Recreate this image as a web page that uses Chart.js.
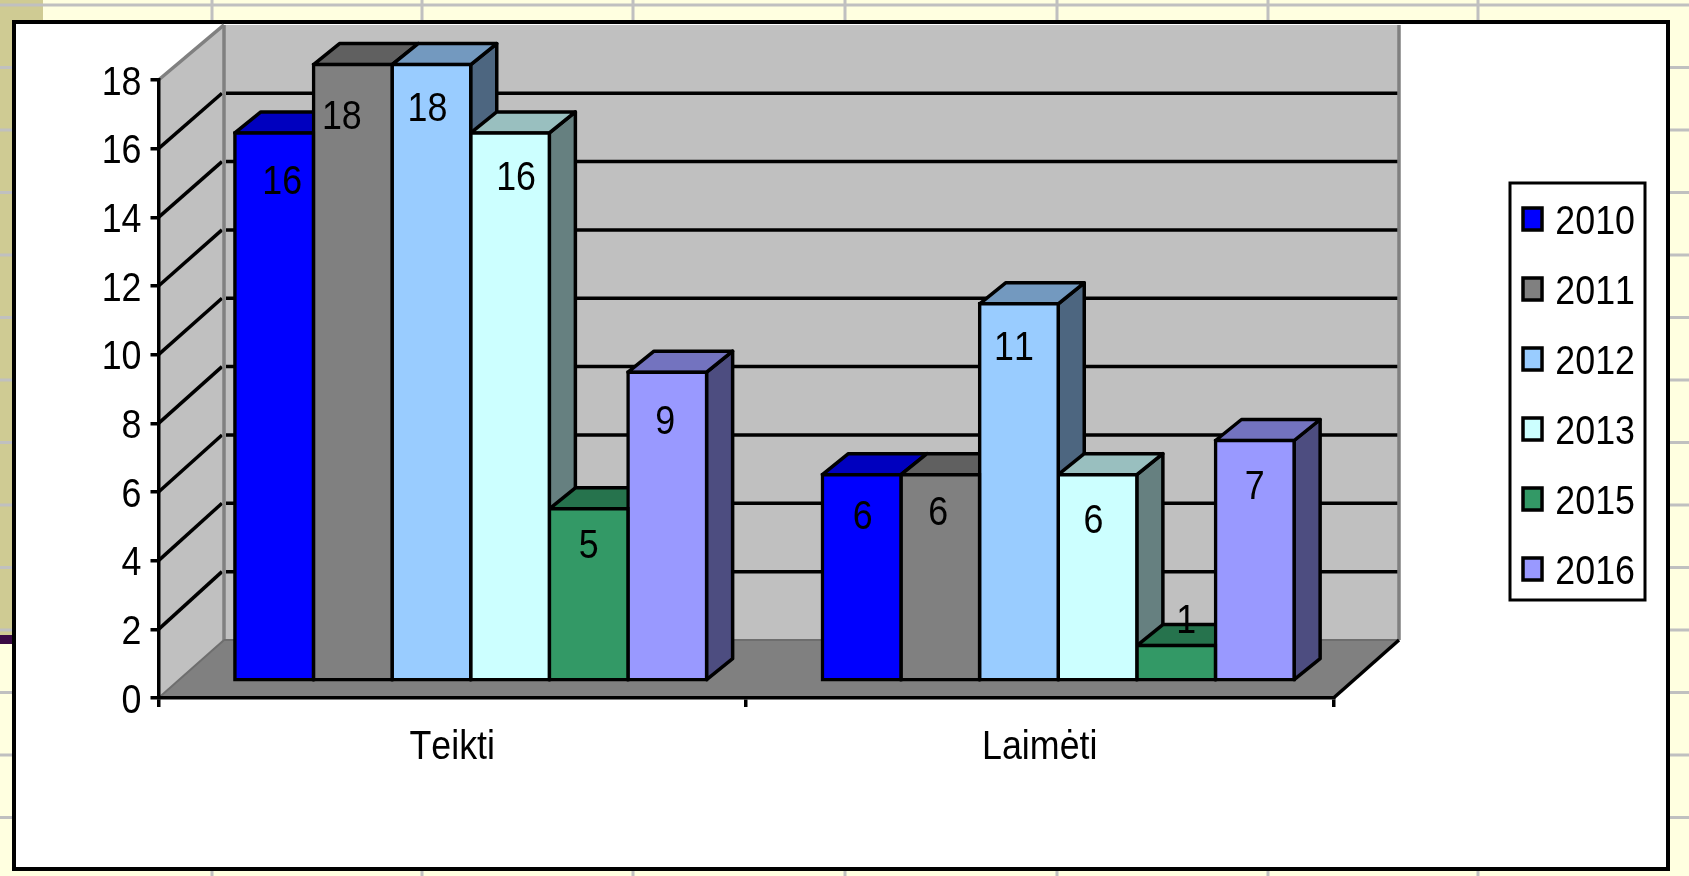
<!DOCTYPE html>
<html>
<head>
<meta charset="utf-8">
<style>
  html, body { margin: 0; padding: 0; background: #ffffe0; }
  canvas { display: block; }
</style>
<script src="https://cdn.jsdelivr.net/npm/chart.js@4"></script>
</head>
<body>
<canvas id="bar-chart" width="1689" height="876"></canvas>
<script>
const categories = ['Teikti', 'Laimėti'];
const seriesNames = ['2010', '2011', '2012', '2013', '2015', '2016'];
const values2010 = [16, 6];
const values2011 = [18, 6];
const values2012 = [18, 11];
const values2013 = [16, 6];
const values2015 = [5, 1];
const values2016 = [9, 7];
const yTicks = [0, 2, 4, 6, 8, 10, 12, 14, 16, 18];

const seriesValues = [values2010, values2011, values2012, values2013, values2015, values2016];
const seriesColors = [[0, 0, 255], [128, 128, 128], [153, 204, 255], [204, 255, 255], [51, 153, 102], [153, 153, 255]];

// the picture puts each value label somewhere slightly different, dx/dy from bar centre/top
const labelNudge = [
  [[8, 47], [1, 40]],
  [[-11, 50], [-2, 36]],
  [[-4, 42], [-5, 42]],
  [[6, 43], [-4, 44]],
  [[0, 35], [10, -27]],
  [[-2, 47], [0, 44]]
];

const font = 'Liberation Sans, Arial, sans-serif';
const fontSize = 40;
const lineW = 3.5;

// offsets of the 3d look
const wall = { dx: 65.5, dy: -58 };
const barPlane = { dx: 18.5, dy: -18.3 };
const depth = { dx: 26, dy: -21 };

function shade(rgb, f) {
  return 'rgb(' + rgb.map(c => Math.round(c * f)).join(',') + ')';
}

function poly(ctx, pts, fill, stroke, width) {
  ctx.beginPath();
  pts.forEach((p, i) => (i ? ctx.lineTo(p[0], p[1]) : ctx.moveTo(p[0], p[1])));
  ctx.closePath();
  if (fill) { ctx.fillStyle = fill; ctx.fill(); }
  if (stroke) { ctx.strokeStyle = stroke; ctx.lineWidth = width; ctx.stroke(); }
}

function line(ctx, x1, y1, x2, y2, color, width) {
  ctx.beginPath();
  ctx.moveTo(x1, y1);
  ctx.lineTo(x2, y2);
  ctx.strokeStyle = color;
  ctx.lineWidth = width;
  ctx.stroke();
}

// the text in the picture is squeezed sideways and sits a bit low, no narrow font here so do it by hand
const canvas = document.getElementById('bar-chart');
const ctx2d = canvas.getContext('2d');
const rawFillText = ctx2d.fillText.bind(ctx2d);
ctx2d.fillText = function (text, x, y) {
  ctx2d.save();
  ctx2d.fontKerning = 'none';
  ctx2d.translate(x, y + 3.5);
  ctx2d.scale(0.895, 1);
  rawFillText(text, 0, 0);
  ctx2d.restore();
};

const sheetPlugin = {
  id: 'sheet',
  beforeDraw(chart) {
    const ctx = chart.ctx;
    const { left, right, top, bottom } = chart.chartArea;
    const y = chart.scales.y;
    const yb = chart.scales.yBars;
    ctx.save();

    // spreadsheet behind the chart
    ctx.fillStyle = '#ffffe0';
    ctx.fillRect(0, 0, 1689, 876);
    ctx.fillStyle = '#cfcb93';
    ctx.fillRect(0, 0, 43, 21);
    ctx.fillRect(0, 0, 13, 635);
    for (let gy = 5; gy < 876; gy += 62.5) line(ctx, 0, gy, 1689, gy, '#c0c0c0', 3);
    [212, 422, 633, 845, 1057, 1268, 1478].forEach(gx => line(ctx, gx, 0, gx, 876, '#c0c0c0', 3));
    ctx.fillStyle = '#3a0a45';
    ctx.fillRect(0, 635, 13, 9);

    // chart frame
    ctx.fillStyle = '#ffffff';
    ctx.fillRect(14, 22, 1654, 847);
    ctx.strokeStyle = '#000';
    ctx.lineWidth = 4;
    ctx.strokeRect(14, 22, 1654, 847);

    const backBottom = bottom + wall.dy;
    const backTop = yb.getPixelForValue(18) + wall.dy;
    const backLeft = left + wall.dx;
    const backRight = right + wall.dx;

    // walls and floor
    poly(ctx, [[backLeft, backTop], [backRight, backTop], [backRight, backBottom], [backLeft, backBottom]], '#c0c0c0');
    poly(ctx, [[left, top], [backLeft, backTop], [backLeft, backBottom], [left, bottom]], '#c0c0c0');
    poly(ctx, [[left, bottom], [right, bottom], [backRight, backBottom], [backLeft, backBottom]], '#808080');

    yTicks.slice(1, -1).forEach(v => {
      const by = yb.getPixelForValue(v) + wall.dy;
      line(ctx, backLeft + 2, by, backRight - 1, by, '#000', lineW);
      line(ctx, left, y.getPixelForValue(v), backLeft - 2, by, '#000', lineW);
    });

    line(ctx, left, top, backLeft, backTop, '#808080', lineW);
    line(ctx, backLeft, backTop, backLeft, backBottom, '#808080', lineW);
    line(ctx, backRight, backTop, backRight, backBottom, '#808080', lineW);
    line(ctx, backLeft, backBottom, backRight, backBottom, '#6e6e6e', 2);
    line(ctx, left, bottom, backLeft, backBottom, '#6e6e6e', 2);
    line(ctx, right, bottom, backRight, backBottom, '#000', lineW);

    // legend box
    ctx.fillStyle = '#ffffff';
    ctx.fillRect(1510, 183, 135, 417);
    ctx.strokeStyle = '#000';
    ctx.lineWidth = 3;
    ctx.strokeRect(1510, 183, 135, 417);
    ctx.restore();
  },
  afterLayout(chart) {
    // legend sits in its own box right of the plot, labels right aligned against lg.right
    const lg = chart.legend;
    lg.left = 1493;
    lg.right = 1635;
    lg.top = 169;
    lg.bottom = 876;
  },
  beforeDatasetsDraw(chart) {
    const ctx = chart.ctx;
    ctx.save();
    ctx.translate(barPlane.dx, barPlane.dy);
    ctx.lineJoin = 'round';
    // sides and tops first, the library paints the fronts over them
    categories.forEach((c, i) => {
      seriesValues.forEach((vals, s) => {
        const bar = chart.getDatasetMeta(s).data[i];
        const x0 = bar.x - bar.width / 2;
        const x1 = bar.x + bar.width / 2;
        const { y, base } = bar;
        const rgb = seriesColors[s];
        poly(ctx, [[x1, y], [x1 + depth.dx, y + depth.dy], [x1 + depth.dx, base + depth.dy], [x1, base]], shade(rgb, 0.5), '#000', lineW);
        poly(ctx, [[x0, y], [x0 + depth.dx, y + depth.dy], [x1 + depth.dx, y + depth.dy], [x1, y]], shade(rgb, 0.75), '#000', lineW);
      });
    });
    // left in place for the bars themselves, afterDatasetsDraw restores it
  },
  afterDatasetsDraw(chart) {
    const ctx = chart.ctx;
    ctx.fillStyle = '#000';
    ctx.font = fontSize + 'px ' + font;
    ctx.textAlign = 'center';
    ctx.textBaseline = 'middle';
    seriesValues.forEach((vals, s) => {
      vals.forEach((v, i) => {
        const bar = chart.getDatasetMeta(s).data[i];
        const n = labelNudge[s][i];
        ctx.fillText(String(v), bar.x + n[0], bar.y + n[1]);
      });
    });
    ctx.restore();
  }
};

const datasets = seriesNames.map((name, s) => ({
  label: name,
  data: seriesValues[s],
  yAxisID: 'yBars',
  backgroundColor: shade(seriesColors[s], 1),
  borderColor: '#000',
  borderWidth: lineW,
  borderSkipped: false,
  inflateAmount: lineW / 2,
  clip: false,
  categoryPercentage: 0.803,
  barPercentage: 1
}));

new Chart(canvas, {
  type: 'bar',
  data: { labels: categories, datasets },
  plugins: [sheetPlugin],
  options: {
    responsive: false,
    animation: false,
    layout: { padding: { top: 80, right: 355.5, left: 0, bottom: 0 } },
    scales: {
      x: {
        afterFit(scale) { scale.height = 178; },
        grid: { drawOnChartArea: false, color: '#000', lineWidth: lineW, tickLength: 9 },
        border: { color: '#000', width: lineW },
        ticks: { color: '#000', padding: 13, font: { family: font, size: fontSize } }
      },
      y: {
        min: 0,
        max: 18,
        afterFit(scale) { scale.width = 158.5; },
        afterBuildTicks(scale) { scale.ticks = yTicks.map(v => ({ value: v })); },
        grid: { drawOnChartArea: false, color: '#000', lineWidth: lineW, tickLength: 8 },
        border: { color: '#000', width: lineW },
        ticks: { color: '#000', padding: 9, font: { family: font, size: fontSize } }
      },
      yBars: {
        display: false,
        min: 0,
        max: 18.085
      }
    },
    plugins: {
      tooltip: { enabled: false },
      legend: {
        position: 'chartArea',
        align: 'start',
        labels: {
          color: '#000',
          boxWidth: 19,
          boxHeight: 22,
          padding: 30,
          textAlign: 'right',
          font: { family: font, size: fontSize }
        }
      }
    }
  }
});
</script>
</body>
</html>
